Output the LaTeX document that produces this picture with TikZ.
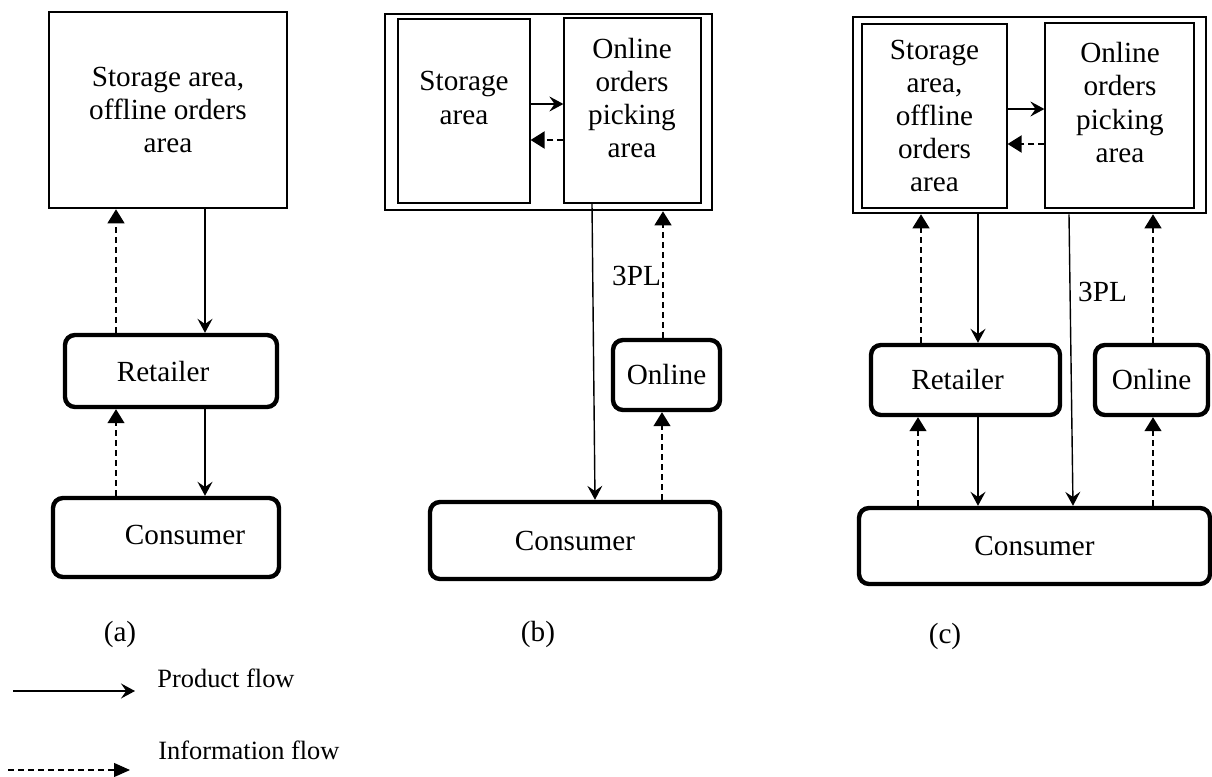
\documentclass[tikz,border=0pt]{standalone}
\usepackage{fontspec}
\setmainfont{Liberation Serif}
\usetikzlibrary{arrows.meta}

\begin{document}
\begin{tikzpicture}[x=0.5pt, y=-0.5pt,
		every node/.style={inner sep=0pt, align=center, font=\fontsize{14.6}{16.6}\selectfont},
		wall/.style={draw, line width=1.3pt},
		area/.style={draw, line width=0.6pt},
		party/.style={draw, line width=2.2pt, rounded corners=5pt},
		sz/.style 2 args={minimum width=#1*0.5pt, minimum height=#2*0.5pt},
		prod/.style={-{Stealth[length=7pt, width=7.5pt, inset=2.6pt]}, line width=0.7pt},
		info/.style={-{Triangle[length=7pt, width=8.5pt]}, line width=0.6pt, dash pattern=on 3pt off 2pt},
		legend/.style={font=\fontsize{13.2}{15}\selectfont, anchor=west}]
	\useasboundingbox (0,0) rectangle (1212,777);
	% (a)
	\node[wall, sz={238}{196}] (stA) at (168,110) {Storage area,\\offline orders\\area};
	\node[party, sz={212}{72}] (reA) at (171,371) {};
	\node (reAt) at (163,372) {Retailer};
	\node[party, sz={226}{79}] (coA) at (166,537.5) {};
	\node (coAt) at (185,535) {Consumer};
	\draw[info] (reA.north -| 116,0) -- (stA.south -| 116,0);
	\draw[prod] (stA.south -| 205,0) -- (reA.north -| 205,0);
	\draw[info] (coA.north -| 116,0) -- (reA.south -| 116,0);
	\draw[prod] (reA.south -| 205,0) -- (coA.north -| 205,0);
	\node (capA) at (120,634) {(a)};
	% (b)
	\node[wall, sz={327}{196}] (whB) at (548.5,112) {};
	\node[area, sz={132}{184}] (stB) at (464,111) {};
	\node (stBt) at (464,98) {Storage\\area};
	\node[area, sz={137}{185}] (piB) at (632.5,110.5) {};
	\node (piBt) at (632,98) {Online\\orders\\picking\\area};
	\node[party, sz={107}{70}] (onB) at (666.5,375) {Online};
	\node[party, sz={290}{77}] (coB) at (575,540.5) {Consumer};
	\draw[prod, line width=1pt] (stB.east |- 0,104) -- (piB.west |- 0,104);
	\draw[info, line width=1pt] (piB.west |- 0,140) -- (stB.east |- 0,140);
	\draw[prod] (piB.south -| 592,0) -- (coB.north -| 595,0);
	\node (tplB) at (636.5,276) {3PL};
	\draw[info] (onB.north -| 663,0) -- (whB.south -| 663,0);
	\draw[info] (coB.north -| 662,0) -- (onB.south -| 662,0);
	\node (capB) at (538,634) {(b)};
	% (c)
	\node[wall, sz={353}{196}] (whC) at (1029.5,115) {};
	\node[area, sz={145}{184}] (stC) at (934.5,116) {Storage\\area,\\offline\\orders\\area};
	\node[area, sz={149}{185}] (piC) at (1119.5,115.5) {};
	\node (piCt) at (1120,102.5) {Online\\orders\\picking\\area};
	\node[party, sz={189}{70}] (reC) at (965.5,380) {};
	\node (reCt) at (957.5,380) {Retailer};
	\node[party, sz={113}{70}] (onC) at (1151.5,380) {Online};
	\node[party, sz={351}{76}] (coC) at (1034.5,546) {Consumer};
	\draw[prod, line width=1pt] (stC.east |- 0,109) -- (piC.west |- 0,109);
	\draw[info, line width=1pt] (piC.west |- 0,144) -- (stC.east |- 0,144);
	\draw[info] (reC.north -| 921,0) -- (whC.south -| 921,0);
	\draw[prod] (whC.south -| 978,0) -- (reC.north -| 978,0);
	\draw[prod] (whC.south -| 1069,0) -- (coC.north -| 1073,0);
	\node (tplC) at (1102.5,292) {3PL};
	\draw[info] (onC.north -| 1153,0) -- (whC.south -| 1153,0);
	\draw[info] (coC.north -| 918,0) -- (reC.south -| 918,0);
	\draw[prod] (reC.south -| 978,0) -- (coC.north -| 978,0);
	\draw[info] (coC.north -| 1153,0) -- (onC.south -| 1153,0);
	\node (capC) at (945,636) {(c)};
	% legend
	\coordinate (pf0) at (13,691);
	\coordinate (pf1) at (135,691);
	\draw[prod] (pf0) -- (pf1);
	\node[legend] (pfl) at (157,678) {Product flow};
	\coordinate (if0) at (8,770);
	\coordinate (if1) at (130,770);
	\draw[info, -{Triangle[length=8pt, width=7pt]}] (if0) -- (if1);
	\node[legend] (ifl) at (158,750) {Information flow};
\end{tikzpicture}
\end{document}
